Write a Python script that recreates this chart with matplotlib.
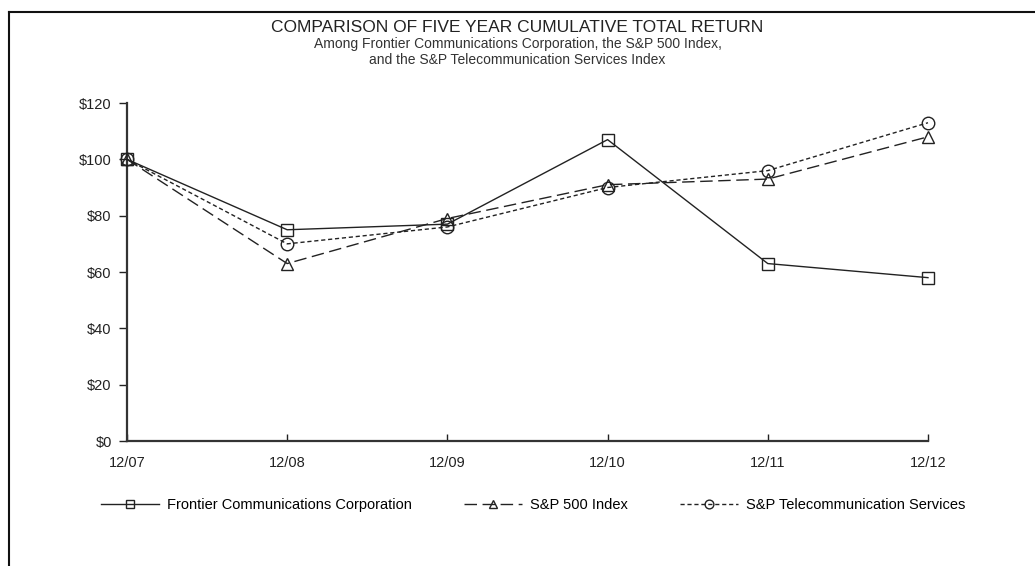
import matplotlib

matplotlib.use("Agg")
import matplotlib.pyplot as plt
from matplotlib.lines import Line2D

plt.rcParams["font.family"] = ["Liberation Sans", "DejaVu Sans"]

periods = ["12/07", "12/08", "12/09", "12/10", "12/11", "12/12"]
frontier = [100, 75, 77, 107, 63, 58]
sp500 = [100, 63, 79, 91, 93, 108]
telecom = [100, 70, 76, 90, 96, 113]
y_ticks = [0, 20, 40, 60, 80, 100, 120]

labels = [
    "Frontier Communications Corporation",
    "S&P 500 Index",
    "S&P Telecommunication Services",
]

fig = plt.figure(figsize=(10.35, 5.66), dpi=100)
ax = fig.add_axes([0.1227, 0.2208, 0.7739, 0.5972])

x = list(range(len(periods)))
common = dict(color="#222222", linewidth=1.0, markersize=9, markerfacecolor="none",
              markeredgewidth=1.0, markeredgecolor="#222222", clip_on=False, zorder=3)
ax.plot(x, frontier, linestyle="-", marker="s", label=labels[0], **common)
ax.plot(x, sp500, linestyle=(0, (9, 4)), marker="^", label=labels[1], **common)
ax.plot(x, telecom, linestyle=(0, (3, 2)), marker="o", label=labels[2], **common)

ax.set_xlim(0, len(periods) - 1)
ax.set_ylim(0, 120)
ax.set_xticks(x)
ax.set_xticklabels(periods, fontsize=10.5)
ax.set_yticks(y_ticks)
ax.set_yticklabels([f"${v}" for v in y_ticks], fontsize=10.5)
ax.tick_params(axis="x", direction="in", length=5, width=1, pad=11, colors="#222222")
ax.tick_params(axis="y", direction="out", length=6, width=1, pad=5, colors="#222222")
for side in ("top", "right"):
    ax.spines[side].set_visible(False)
for side in ("left", "bottom"):
    ax.spines[side].set_linewidth(1.6)
    ax.spines[side].set_color("#333333")

fig.text(0.5, 1 - 28 / 566, "COMPARISON OF FIVE YEAR CUMULATIVE TOTAL RETURN",
         ha="center", va="center", fontsize=12.5, color="#222222")
fig.text(0.5, 1 - 44 / 566,
         "Among Frontier Communications Corporation, the S&P 500 Index,",
         ha="center", va="center", fontsize=10, color="#333333")
fig.text(0.5, 1 - 60 / 566,
         "and the S&P Telecommunication Services Index",
         ha="center", va="center", fontsize=10, color="#333333")

fig.legend(loc="center", bbox_to_anchor=(0.515, 1 - 505 / 566), ncol=3,
           frameon=False, fontsize=10.5, handlelength=4.0, columnspacing=3.6,
           handletextpad=0.5, markerscale=0.7)

# page frame (top and left edges)
fig.add_artist(Line2D([9 / 1035, 1], [1 - 12 / 566, 1 - 12 / 566],
                      transform=fig.transFigure, color="#111111", linewidth=1.5))
fig.add_artist(Line2D([9 / 1035, 9 / 1035], [0, 1 - 12 / 566],
                      transform=fig.transFigure, color="#111111", linewidth=1.5))

fig.savefig("out.png", dpi=100)
plt.close(fig)
